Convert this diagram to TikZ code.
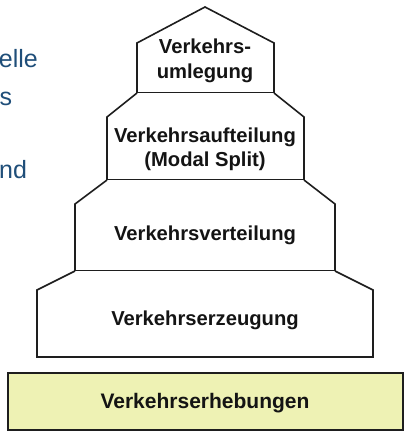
\documentclass[tikz,border=0pt]{standalone}
\usepackage{fontspec}
\setmainfont{Liberation Sans}
\definecolor{basefill}{HTML}{EEF2B4}
\definecolor{sidetext}{HTML}{1F4E79}
\definecolor{edge}{HTML}{1E1E1E}
\begin{document}
\begin{tikzpicture}[x=1pt,y=-1pt,
  tier/.style={draw=edge,line width=1.6pt,line join=miter,fill=white},
  tiertext/.style={font=\fontsize{20.2}{24}\selectfont\bfseries,text=black!92,align=center,inner sep=0pt},
  sideword/.style={font=\fontsize{25}{30}\selectfont,text=sidetext,inner sep=0pt}]
\useasboundingbox (0,0) rectangle (407,444);
% pyramid tiers
\draw[tier] (137,93) -- (137,43) -- (205,7) -- (274,43) -- (274,93) -- cycle;
\draw[tier] (137,93) -- (107,117) -- (107,180) -- (304,180) -- (304,117) -- (274,93);
\draw[tier] (107,180) -- (75,204) -- (75,271) -- (335,271) -- (335,204) -- (304,180);
\draw[tier] (75,271) -- (37,290) -- (37,357) -- (373,357) -- (373,290) -- (335,271);
\draw[draw=edge,line width=1.6pt,fill=basefill] (8,373) rectangle (403,430);
% texts
\node[tiertext,anchor=base] (t1) at (205,53) {Verkehrs-};
\node[tiertext,anchor=base] (t1b) at (205,78) {umlegung};
\node[tiertext,anchor=base] (t2) at (205,142) {Verkehrsaufteilung};
\node[tiertext,anchor=base] (t2b) at (205,166) {(Modal Split)};
\node[tiertext,anchor=base] (t3) at (205,240) {Verkehrsverteilung};
\node[tiertext,anchor=base] (t4) at (205,325) {Verkehrserzeugung};
\node[tiertext,anchor=base,font=\fontsize{21}{24}\selectfont\bfseries] (t5) at (205,408) {Verkehrserhebungen};
% partial side text
\node[sideword,anchor=base east] (s1) at (38,67) {elle};
\node[sideword,anchor=base west] (s2) at (-0.5,105) {s};
\node[sideword,anchor=base west] (s3) at (-1,178) {nd};
\end{tikzpicture}
\end{document}
